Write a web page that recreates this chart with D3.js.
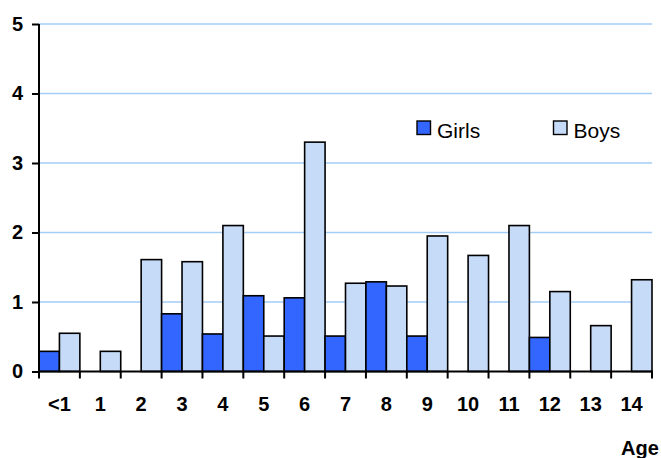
<!DOCTYPE html>
<html>
<head>
<meta charset="utf-8">
<script src="https://cdn.jsdelivr.net/npm/d3@7/dist/d3.min.js"></script>
<style>
  html, body { margin: 0; padding: 0; background: #fff; }
  svg { display: block; font-family: "Liberation Sans", Arial, sans-serif; }
</style>
</head>
<body>
<svg id="chart" width="661" height="458"></svg>
<script>
// Age groups and rates per series
const ages = ["<1", "1", "2", "3", "4", "5", "6", "7", "8", "9", "10", "11", "12", "13", "14"];
const girls = [0.29, 0, 0, 0.83, 0.54, 1.09, 1.06, 0.51, 1.29, 0.51, 0, 0, 0.49, 0, 0];
const boys  = [0.55, 0.29, 1.61, 1.58, 2.10, 0.51, 3.30, 1.27, 1.23, 1.95, 1.67, 2.10, 1.15, 0.66, 1.32];
const seriesNames = ["Girls", "Boys"];
const yTicks = [0, 1, 2, 3, 4, 5];

const colors = { Girls: "#3366ff", Boys: "#c6dbf8" };

const svg = d3.select("#chart");
const plot = { left: 39, right: 652, top: 24, bottom: 371.5 };

const x = d3.scaleBand().domain(ages).range([plot.left, plot.right]).padding(0);
const xs = d3.scaleBand().domain(seriesNames).range([0, x.bandwidth()]).padding(0);
const y = d3.scaleLinear().domain([0, 5]).range([plot.bottom, plot.top]);

// horizontal gridlines
svg.append("g")
  .selectAll("line")
  .data(yTicks.filter(d => d > 0))
  .join("line")
  .attr("x1", plot.left).attr("x2", plot.right)
  .attr("y1", d => y(d)).attr("y2", d => y(d))
  .attr("stroke", "#a3cdf6")
  .attr("stroke-width", 1.6);

// bars
const rows = ages.map((a, i) => ({ age: a, values: [
  { key: "Girls", v: girls[i] }, { key: "Boys", v: boys[i] }
]}));

svg.append("g")
  .selectAll("g")
  .data(rows)
  .join("g")
  .attr("transform", d => `translate(${x(d.age)},0)`)
  .selectAll("rect")
  .data(d => d.values.filter(s => s.v > 0))
  .join("rect")
  .attr("x", d => xs(d.key))
  .attr("width", xs.bandwidth())
  .attr("y", d => y(d.v))
  .attr("height", d => y(0) - y(d.v))
  .attr("fill", d => colors[d.key])
  .attr("stroke", "#000")
  .attr("stroke-width", 1.6);

// y axis
const yAxis = svg.append("g")
  .attr("transform", `translate(${plot.left},0)`)
  .call(d3.axisLeft(y).tickValues(yTicks).tickFormat(d3.format("d")).tickSize(7).tickPadding(9));
yAxis.select(".domain").attr("stroke", "#000").attr("stroke-width", 2)
  .attr("d", `M0,${plot.top}V${plot.bottom}`);
yAxis.selectAll(".tick line").attr("stroke", "#000").attr("stroke-width", 2);
yAxis.selectAll(".tick text")
  .attr("font-size", 20).attr("font-weight", "bold").attr("fill", "#000")
  .attr("font-family", "Liberation Sans, Arial, sans-serif");

// x axis: labels centred under each age group
const xAxis = svg.append("g")
  .attr("transform", `translate(0,${plot.bottom})`)
  .call(d3.axisBottom(x).tickSize(0).tickPadding(25));
xAxis.select(".domain").remove();
xAxis.selectAll(".tick text")
  .attr("font-size", 20).attr("font-weight", "bold").attr("fill", "#000")
  .attr("font-family", "Liberation Sans, Arial, sans-serif");

// x tick marks at group boundaries
const bounds = ages.map(a => x(a)).concat([x.range()[1]]);
svg.append("g")
  .selectAll("line")
  .data(bounds)
  .join("line")
  .attr("x1", d => d).attr("x2", d => d)
  .attr("y1", plot.bottom).attr("y2", plot.bottom + 7)
  .attr("stroke", "#000").attr("stroke-width", 2);

svg.append("line")
  .attr("x1", plot.left - 1).attr("x2", plot.right + 1)
  .attr("y1", plot.bottom).attr("y2", plot.bottom)
  .attr("stroke", "#000").attr("stroke-width", 2);

// axis title
svg.append("text")
  .attr("x", 621).attr("y", 455)
  .attr("font-size", 20).attr("font-weight", "bold")
  .text("Age");

// legend
const legendX = [417, 553.5];
const legend = svg.append("g")
  .selectAll("g")
  .data(seriesNames)
  .join("g")
  .attr("transform", (d, i) => `translate(${legendX[i]},121)`);
legend.append("rect")
  .attr("width", 13.5).attr("height", 13.5)
  .attr("fill", d => colors[d])
  .attr("stroke", "#000").attr("stroke-width", 1.4);
legend.append("text")
  .attr("x", 20).attr("y", 16.5)
  .attr("font-size", 21)
  .text(d => d);
</script>
</body>
</html>
